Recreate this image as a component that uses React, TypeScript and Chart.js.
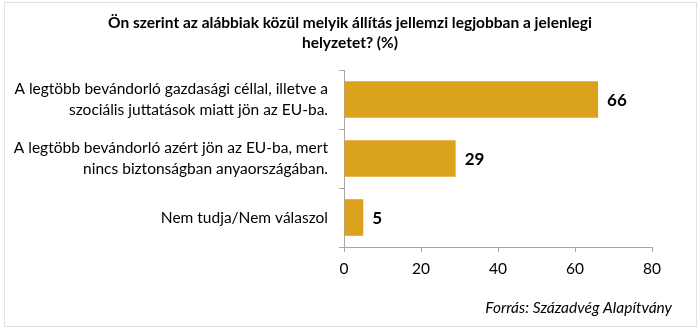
import React, { useEffect, useRef } from "react";
import { Chart, registerables } from "chart.js";

Chart.register(...registerables);

const categories: string[][] = [
  ["A legtöbb bevándorló gazdasági céllal, illetve a", "szociális juttatások miatt jön az EU-ba."],
  ["A legtöbb bevándorló azért jön az EU-ba, mert", "nincs biztonságban anyaországában."],
  ["Nem tudja/Nem válaszol"],
];
const values: number[] = [66, 29, 5];
const xTicks: number[] = [0, 20, 40, 60, 80];
const titleLines: string[] = [
  "Ön szerint az alábbiak közül melyik állítás jellemzi legjobban a jelenlegi",
  "helyzetet? (%)",
];
const sourceText = "Forrás: Századvég Alapítvány";

const FONT = "Lato, 'Open Sans', sans-serif";
const BAR = "#DBA21E";
const AXIS = "#a6a6a6";

const decorPlugin = {
  id: "decor",
  beforeDraw(chart: any) {
    const ctx = chart.ctx;
    ctx.save();
    ctx.fillStyle = "#ffffff";
    ctx.fillRect(0, 0, chart.width, chart.height);
    ctx.strokeStyle = "#e2e2e2";
    ctx.lineWidth = 1;
    ctx.strokeRect(4.5, 2.5, 692, 324);
    ctx.restore();
  },
  afterDraw(chart: any) {
    const ctx = chart.ctx;
    ctx.save();
    ctx.fillStyle = "#000000";
    ctx.textAlign = "center";
    ctx.textBaseline = "middle";
    ctx.font = `bold 15.5px ${FONT}`;
    titleLines.forEach((t, i) => ctx.fillText(t, 350, 23 + i * 20));
    // data labels
    const meta = chart.getDatasetMeta(0);
    ctx.font = `bold 17px ${FONT}`;
    ctx.textAlign = "left";
    meta.data.forEach((el: any, i: number) => {
      ctx.fillText(String(values[i]), el.x + 9, el.y + 1);
    });
    ctx.font = `italic 15.5px ${FONT}`;
    ctx.textAlign = "right";
    ctx.fillText(sourceText, 672, 308);
    ctx.restore();
  },
};

export default function App() {
  const ref = useRef<HTMLCanvasElement | null>(null);
  useEffect(() => {
    document.body.style.margin = "0";
    const chart = new Chart(ref.current as HTMLCanvasElement, {
      type: "bar",
      data: {
        labels: categories as any,
        datasets: [
          {
            data: values,
            backgroundColor: BAR,
            borderWidth: 0,
            barPercentage: 0.62,
            categoryPercentage: 1,
          },
        ],
      },
      options: {
        indexAxis: "y",
        animation: false,
        responsive: false,
        layout: { padding: { top: 70, right: 48, left: 0, bottom: 0 } },
        plugins: {
          legend: { display: false },
          title: { display: false },
          tooltip: { enabled: false },
        },
        scales: {
          x: {
            min: 0,
            max: 80,
            afterBuildTicks: (scale: any) => {
              scale.ticks = xTicks.map((v) => ({ value: v }));
            },
            afterFit: (scale: any) => {
              scale.height = 82;
            },
            grid: { drawOnChartArea: false, drawTicks: true, tickLength: 5, color: AXIS },
            border: { display: true, color: AXIS },
            ticks: { color: "#000", font: { family: FONT, size: 15.5 }, padding: 8 },
          },
          y: {
            afterFit: (scale: any) => {
              scale.width = 344;
            },
            grid: { drawOnChartArea: false, drawTicks: true, tickLength: 5, color: AXIS, offset: true },
            border: { display: true, color: AXIS },
            ticks: {
              color: "#000",
              font: { family: FONT, size: 15.5, lineHeight: 1.4 },
              padding: 11,
            },
          },
        },
      },
      plugins: [decorPlugin],
    });
    return () => chart.destroy();
  }, []);
  return <canvas ref={ref} width={700} height={329} style={{ display: "block" }} />;
}
